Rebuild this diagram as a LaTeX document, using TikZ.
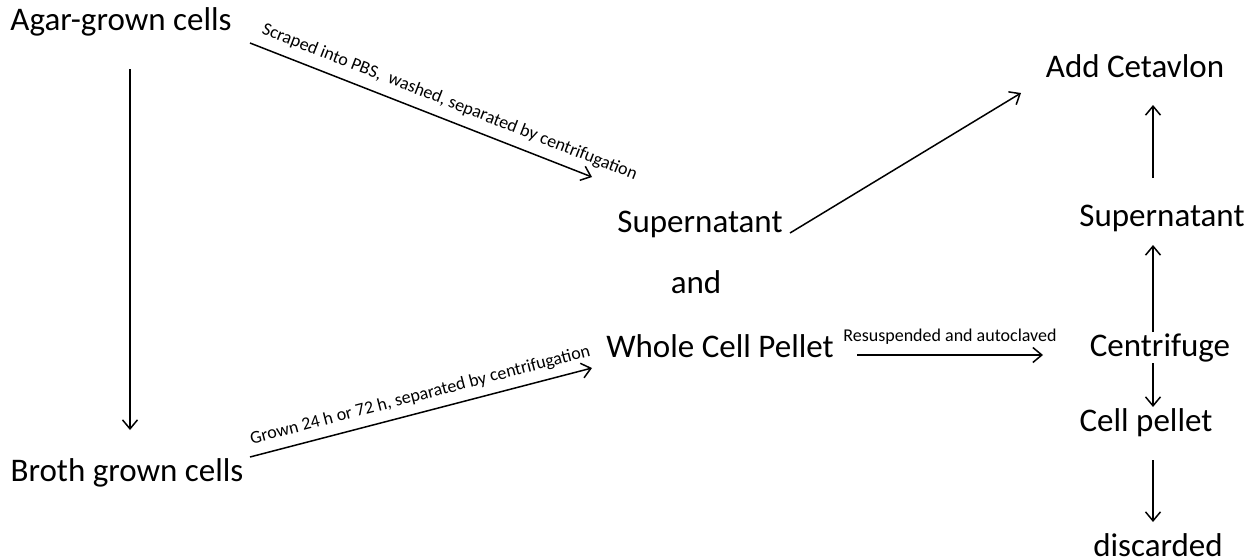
\documentclass[tikz,border=0pt]{standalone}
\usepackage{fontspec}
\setmainfont{Carlito}
\usepackage{tikz}
\usetikzlibrary{arrows.meta}
\usetikzlibrary{positioning}

\tikzset{
  big/.style={inner sep=0pt, font=\fontsize{33}{40}\selectfont},
  small/.style={inner sep=2pt, font=\fontsize{18}{22}\selectfont},
  flow/.style={->, line width=1.5pt}
}

\begin{document}
\begin{tikzpicture}[x=1pt, y=-1pt, >={Straight Barb[length=9pt,width=15pt]}]
\useasboundingbox (0,0) rectangle (1259,558);
% left column
\node[big] (agar) at (121,22) {Agar-grown cells};
\node[big] (broth) at (127,473) {Broth grown cells};
% middle
\node[big] (super) at (700,224) {Supernatant};
\node[big] (and) at (696,282) {and};
\node[big] (whole) at (720,346) {Whole Cell Pellet};
% right column
\node[big] (cetav) at (1135,66) {Add Cetavlon};
\node[big] (super2) at (1162,218) {Supernatant};
\node[big] (centri) at (1160,348) {Centrifuge};
\node[big] (pellet) at (1146,423) {Cell pellet};
\node[big] (discard) at (1158,545) {discarded};
% arrows
\draw[flow] ([xshift=9pt,yshift=-47pt]agar.center) -- ([xshift=3pt,yshift=43pt]broth.center);
\draw[flow] ([xshift=129pt,yshift=-21pt]agar.center) -- ([xshift=-108pt,yshift=47pt]super.center)
  node[small, sloped, above=7pt, pos=0.565] {Scraped into PBS,\ \ washed, separated by centrifugation};
\draw[flow] ([xshift=123pt,yshift=16pt]broth.center) -- ([xshift=-128pt,yshift=-22pt]whole.center)
  node[small, sloped, above=6pt, pos=0.51] {Grown 24 h or 72 h, separated by centrifugation};
\draw[flow] ([xshift=90pt,yshift=-9pt]super.center) -- ([xshift=-114pt,yshift=-27pt]cetav.center);
\draw[flow] ([xshift=137pt,yshift=-9pt]whole.center) -- ([xshift=-117pt,yshift=-7pt]centri.center)
  node[small, above=8pt, midway] {Resuspended and autoclaved};
\draw[flow] ([xshift=-9pt,yshift=40pt]super2.center) -- ([xshift=18pt,yshift=-39pt]cetav.center);
\draw[flow] ([xshift=-7pt,yshift=16pt]centri.center) -- ([xshift=-9pt,yshift=-27pt]super2.center);
\draw[flow] ([xshift=-7pt,yshift=-15pt]centri.center) -- ([xshift=7pt,yshift=16pt]pellet.center);
\draw[flow] ([xshift=7pt,yshift=-37pt]pellet.center) -- ([xshift=-5pt,yshift=23pt]discard.center);
\end{tikzpicture}
\end{document}
